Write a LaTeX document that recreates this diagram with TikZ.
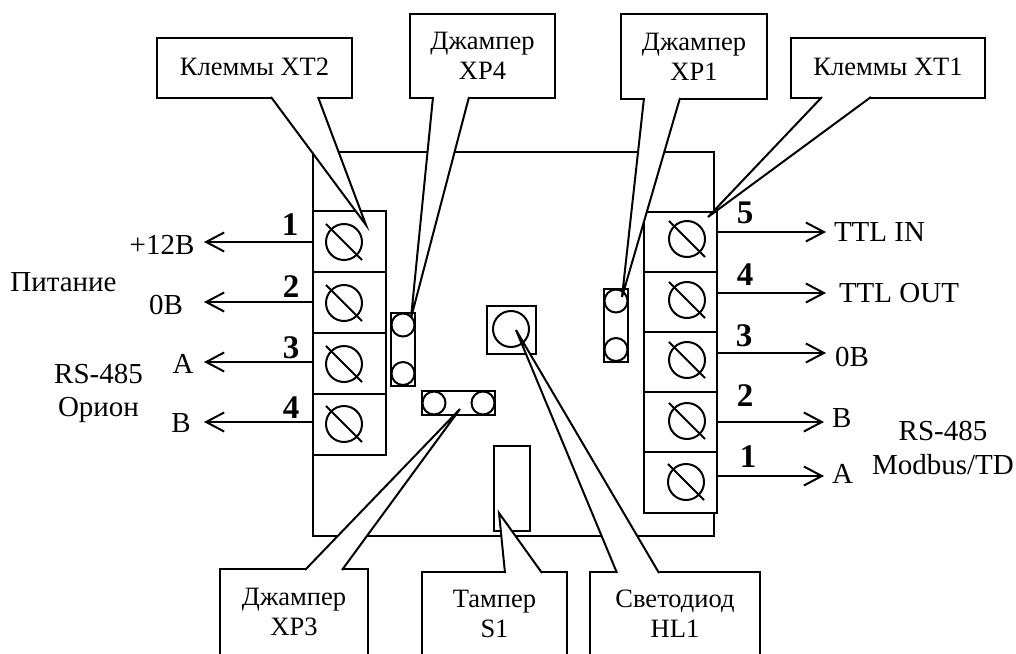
\documentclass[tikz,border=0pt]{standalone}
\usepackage{fontspec}
\setmainfont{Liberation Serif}
\usetikzlibrary{arrows.meta,calc}

\begin{document}
\begin{tikzpicture}[x=1pt,y=-1pt,inner sep=0pt,line width=2pt,
            every node/.style={font=\fontsize{29}{33.5}\selectfont},
            block/.style={draw,fill=white,minimum width=#1},
            term/.style={block=73pt,minimum height=61pt},
            screw/.style={draw,circle,minimum size=36pt},
            slash/.style={shorten >=-6.5pt,shorten <=-6.5pt},
            jpin/.style={draw,circle,minimum size=23pt},
            numb/.style={font=\fontsize{33}{33}\selectfont\bfseries},
            note/.style={block=#1,align=center,font=\fontsize{26.5}{30}\selectfont},
            wire/.style={-{Straight Barb[length=18pt,width=19pt]}},
            pointer/.style={draw,fill=white}]
    \clip[use as bounding box] (0,0) rectangle (1016,653);

    \node(board)[block=401pt,minimum height=384pt] at (513.5,344) {};

    % left terminals
    \node(tl1)[term] at (349.5,241.5) {};
    \node(tl2)[term] at (349.5,302.5) {};
    \node(tl3)[term] at (349.5,363.5) {};
    \node(tl4)[term] at (349.5,424) {};
    \node(sl1)[screw] at (344,242) {};
    \node(sl2)[screw] at (344,303) {};
    \node(sl3)[screw] at (344,364) {};
    \node(sl4)[screw] at (344,424) {};
    \draw[slash] (sl1.north west) -- (sl1.south east);
    \draw[slash] (sl2.north west) -- (sl2.south east);
    \draw[slash] (sl3.north west) -- (sl3.south east);
    \draw[slash] (sl4.north west) -- (sl4.south east);

    % right terminals
    \node(tr5)[term] at (680.5,242) {};
    \node(tr4)[term] at (680.5,302) {};
    \node(tr3)[term] at (680.5,362) {};
    \node(tr2)[term] at (680.5,422) {};
    \node(tr1)[term] at (680.5,482.5) {};
    \node(sr5)[screw] at (687,239) {};
    \node(sr4)[screw] at (687,300) {};
    \node(sr3)[screw] at (687,360) {};
    \node(sr2)[screw] at (687,421) {};
    \node(sr1)[screw] at (686,482) {};
    \draw[slash] (sr5.north west) -- (sr5.south east);
    \draw[slash] (sr4.north west) -- (sr4.south east);
    \draw[slash] (sr3.north west) -- (sr3.south east);
    \draw[slash] (sr2.north west) -- (sr2.south east);
    \draw[slash] (sr1.north west) -- (sr1.south east);

    % jumpers, LED, tamper
    \node(xp4)[block=24pt,minimum height=73pt] at (403,349.5) {};
    \node(xp4a)[jpin] at (403,325) {};
    \node(xp4b)[jpin] at (403,373.5) {};
    \node(xp1)[block=24pt,minimum height=73pt] at (616,325.5) {};
    \node(xp1a)[jpin] at (616,301) {};
    \node(xp1b)[jpin] at (616,349.5) {};
    \node(xp3)[block=73pt,minimum height=24pt] at (458.5,403) {};
    \node(xp3a)[jpin] at (434,403) {};
    \node(xp3b)[jpin] at (483,403) {};
    \node(hl1)[block=49pt,minimum height=48pt] at (511.5,330) {};
    \node(hl1a)[draw,circle,minimum size=36pt] at (511,329) {};
    \node(s1)[block=36pt,minimum height=85pt] at (512,488.5) {};

    % left wires
    \coordinate(al1) at (204,242);
    \coordinate(al2) at (204,302);
    \coordinate(al3) at (204,362);
    \coordinate(al4) at (204,422);
    \draw[wire] (tl1.west |- al1) -- (al1);
    \draw[wire] (tl2.west |- al2) -- (al2);
    \draw[wire] (tl3.west |- al3) -- (al3);
    \draw[wire] (tl4.west |- al4) -- (al4);
    \node(nl1)[numb] at (290,225) {1};
    \node(nl2)[numb] at (291,287) {2};
    \node(nl3)[numb] at (291,348) {3};
    \node(nl4)[numb] at (291,408) {4};
    \node(ll1) at (162,245) {+12В};
    \node(ll2) at (166,305) {0В};
    \node(ll3) at (183,364) {A};
    \node(ll4) at (181,423) {B};
    \node(power) at (63.5,282) {Питание};
    \node(orion)[align=center] at (98.5,393.5) {RS-485\\Орион};

    % right wires
    \coordinate(ar5) at (826,232);
    \coordinate(ar4) at (826,293);
    \coordinate(ar3) at (826,353);
    \coordinate(ar2) at (824,422);
    \coordinate(ar1) at (824,476);
    \draw[wire] (tr5.east |- ar5) -- (ar5);
    \draw[wire] (tr4.east |- ar4) -- (ar4);
    \draw[wire] (tr3.east |- ar3) -- (ar3);
    \draw[wire] (tr2.east |- ar2) -- (ar2);
    \draw[wire] (tr1.east |- ar1) -- (ar1);
    \node(nr5)[numb] at (745,213) {5};
    \node(nr4)[numb] at (745,275) {4};
    \node(nr3)[numb] at (744,336) {3};
    \node(nr2)[numb] at (745,396) {2};
    \node(nr1)[numb] at (748,457) {1};
    \node(lr5)[anchor=west] at (833,232) {TTL IN};
    \node(lr4)[anchor=west] at (838,293) {TTL OUT};
    \node(lr3)[anchor=west] at (834,357) {0В};
    \node(lr2)[anchor=west] at (831,418) {B};
    \node(lr1)[anchor=west] at (831,474) {A};
    \node(modbus)[align=center] at (943,448) {RS-485\\Modbus/TD};

    % callouts
    \node(cxt2)[note=195pt,minimum height=60pt] at (254.5,68) {\raisebox{3pt}{Клеммы XT2}};
    \coordinate(txt2) at (366,225);
    \draw[pointer] ($(cxt2.south west)+(115,-2)$) -- (txt2) -- ($(cxt2.south west)+(162,-2)$);

    \node(cxp4)[note=145pt,minimum height=84pt] at (482.5,56) {Джампер\\XP4};
    \coordinate(txp4) at (411,318);
    \draw[pointer] ($(cxp4.south west)+(24,-2)$) -- (txp4) -- ($(cxp4.south west)+(60,-2)$);

    \node(cxp1)[note=146pt,minimum height=85pt] at (694,56.5) {Джампер\\XP1};
    \coordinate(txp1) at (622,297);
    \draw[pointer] ($(cxp1.south west)+(24,-2)$) -- (txp1) -- ($(cxp1.south west)+(60,-2)$);

    \node(cxt1)[note=194pt,minimum height=60pt] at (888,68) {\raisebox{3pt}{Клеммы XT1}};
    \coordinate(txt1) at (708,217);
    \draw[pointer] ($(cxt1.south west)+(32,-2)$) -- (txt1) -- ($(cxt1.south west)+(81,-2)$);

    \node(cxp3)[note=148pt,minimum height=86pt] at (294,612) {Джампер\\XP3};
    \coordinate(txp3) at (460,409);
    \draw[pointer] ($(cxp3.north west)+(86,2)$) -- (txp3) -- ($(cxp3.north west)+(123,2)$);

    \node(cs1)[note=145pt,minimum height=83pt] at (494.5,613.5) {Тампер\\S1};
    \coordinate(ts1) at (499,513);
    \draw[pointer] ($(cs1.north west)+(84,2)$) -- (ts1) -- ($(cs1.north west)+(121,2)$);

    \node(chl1)[note=170pt,minimum height=83pt] at (675,613.5) {Светодиод\\HL1};
    \coordinate(thl1) at (516,330);
    \draw[pointer] ($(chl1.north west)+(28,2)$) -- (thl1) -- ($(chl1.north west)+(70,2)$);
\end{tikzpicture}
\end{document}
